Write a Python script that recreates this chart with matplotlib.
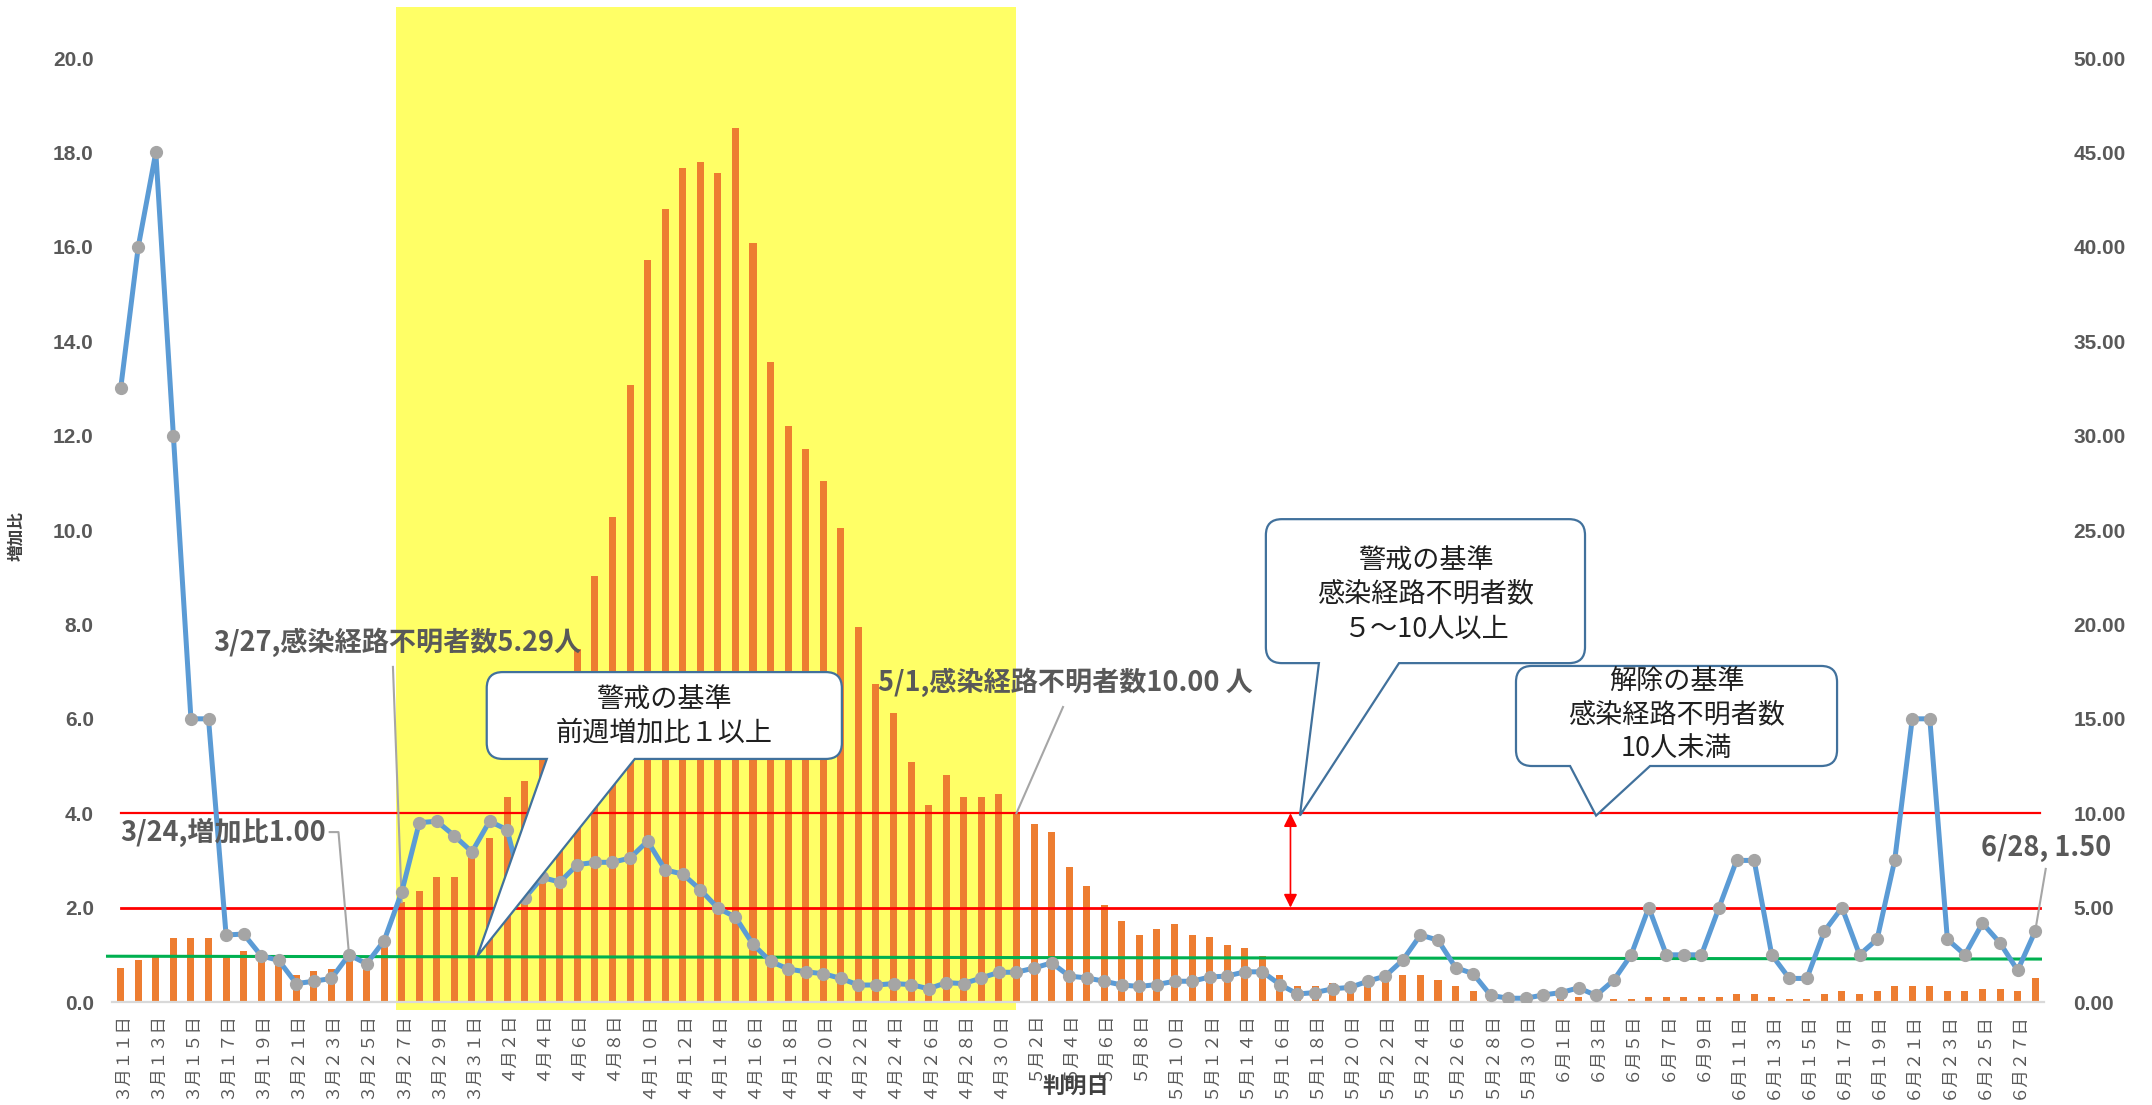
import numpy as np
import pandas as pd
import matplotlib
matplotlib.use('Agg')
import matplotlib.pyplot as plt
from matplotlib.path import Path
from matplotlib.patches import PathPatch, Rectangle
from matplotlib.transforms import IdentityTransform

plt.rcParams['font.family'] = ['Noto Sans CJK JP', 'DejaVu Sans']

# 判明日 (3/11 - 6/28)
dates = pd.date_range('2020-03-11', '2020-06-28', freq='D')

# 前週増加比 (left axis)
ratio = [13.0, 16.0, 18.0, 12.0, 6.0, 6.0, 1.42, 1.44, 0.98, 0.88,
         0.39, 0.44, 0.50, 1.00, 0.81, 1.30, 2.33, 3.80, 3.83, 3.52,
         3.18, 3.83, 3.65, 2.20, 2.64, 2.54, 2.91, 2.96, 2.96, 3.05,
         3.41, 2.80, 2.71, 2.38, 1.99, 1.80, 1.22, 0.86, 0.70, 0.64,
         0.60, 0.50, 0.36, 0.36, 0.39, 0.37, 0.28, 0.41, 0.39, 0.51,
         0.63, 0.63, 0.72, 0.83, 0.55, 0.51, 0.44, 0.36, 0.33, 0.37,
         0.44, 0.44, 0.53, 0.55, 0.64, 0.64, 0.37, 0.17, 0.20, 0.28,
         0.31, 0.44, 0.55, 0.89, 1.42, 1.31, 0.73, 0.60, 0.14, 0.08,
         0.08, 0.15, 0.20, 0.30, 0.14, 0.46, 1.00, 2.00, 1.00, 1.00,
         1.00, 2.00, 3.00, 3.00, 1.00, 0.50, 0.50, 1.50, 2.00, 1.00,
         1.33, 3.00, 6.00, 6.00, 1.33, 1.00, 1.67, 1.25, 0.67, 1.50]

# 感染経路不明者数 (right axis)
unknown = [1.80, 2.20, 2.50, 3.40, 3.40, 3.40, 2.40, 2.70, 2.40, 2.10,
           1.45, 1.65, 1.75, 2.25, 2.00, 3.10, 5.29, 5.90, 6.60, 6.60,
           7.90, 8.71, 10.86, 11.71, 13.80, 16.30, 18.71, 22.57, 25.71, 32.70,
           39.30, 42.00, 44.20, 44.50, 43.90, 46.30, 40.20, 33.90, 30.50, 29.30,
           27.60, 25.10, 19.86, 16.86, 15.29, 12.71, 10.43, 12.00, 10.86, 10.86,
           11.00, 10.00, 9.43, 9.00, 7.14, 6.14, 5.14, 4.29, 3.57, 3.86,
           4.14, 3.57, 3.43, 3.00, 2.86, 2.43, 1.43, 0.86, 0.86, 1.00,
           1.00, 1.14, 1.29, 1.43, 1.43, 1.14, 0.86, 0.57, 0.29, 0.14,
           0.14, 0.29, 0.29, 0.29, 0.14, 0.14, 0.14, 0.29, 0.29, 0.29,
           0.29, 0.29, 0.43, 0.43, 0.29, 0.14, 0.14, 0.43, 0.57, 0.43,
           0.57, 0.86, 0.86, 0.86, 0.57, 0.57, 0.71, 0.71, 0.57, 1.29]

left_ticks = np.arange(0, 21, 2)
right_ticks = np.arange(0, 51, 5)

GRAY = '#595959'
x = np.arange(len(dates))

fig = plt.figure(figsize=(21.52, 11.05), dpi=100)
ax = fig.add_axes([0.052, 0.0932, 0.8978, 0.8543])
ax2 = ax.twinx()
ax.set_zorder(ax2.get_zorder() + 1)
ax.patch.set_visible(False)

ax.set_xlim(-0.5, len(x) - 0.5)
ax.set_ylim(0, 20)
ax2.set_ylim(0, 50)

# highlighted period
ax2.add_patch(Rectangle((15.65, -0.4), 51.0 - 15.65, 53.1, fc='#FFFF66',
                        ec='none', zorder=0, clip_on=False))
ax2.bar(x, unknown, width=0.4, color='#ED7D31', zorder=2)

# reference lines
ax.plot([0, 109.3], [4, 4], color='#FF0000', lw=1.6, zorder=2)
ax.plot([0, 109.3], [2, 2], color='#FF0000', lw=2.0, zorder=2)
ax.plot([-0.75, 109.3], [0.97, 0.91], color='#00B050', lw=2.2, zorder=2,
        clip_on=False)
ax.annotate('', xy=(66.6, 4.0), xytext=(66.6, 2.0), zorder=3,
            arrowprops=dict(arrowstyle='<|-|>', color='#FF0000', lw=1.2,
                            mutation_scale=20, shrinkA=0, shrinkB=0))

ax.plot(x, ratio, color='#5B9BD5', lw=3.6, marker='o', ms=8.5,
        mfc='#A5A5A5', mec='#A5A5A5', zorder=5)

# axes styling
for s in ['top', 'left', 'right']:
    ax.spines[s].set_visible(False)
for s in ax2.spines.values():
    s.set_visible(False)
ax.spines['bottom'].set_color('#D9D9D9')
ax.spines['bottom'].set_linewidth(1.6)

num_font = dict(family=['Liberation Sans'], fontsize=15, fontweight='bold', color=GRAY)
ax.set_yticks(left_ticks)
ax.set_yticklabels([f'{v:.1f}' for v in left_ticks], **num_font)
ax2.set_yticks(right_ticks)
ax2.set_yticklabels([f'{v:.2f}' for v in right_ticks], **num_font)
ax.tick_params(axis='y', length=0, pad=13)
ax2.tick_params(axis='y', length=0, pad=21)

fw = str.maketrans('0123456789', '０１２３４５６７８９')
ax.set_xticks(x[::2])
ax.set_xticklabels([f'{d.month}月{d.day}日'.translate(fw) for d in dates[::2]],
                   rotation=90, fontsize=12.5, color=GRAY)
ax.tick_params(axis='x', length=0, pad=7)

fig.text(0.5, 0.0163, '判明日', ha='center', va='center', fontsize=16,
         fontweight='bold', color='#404040')
fig.text(0.0075, 0.515, '増加比', ha='center', va='center', rotation=90,
         fontsize=12, fontweight='bold', color='#404040')

# data labels with leader lines
lab = dict(fontsize=19.5, fontweight='bold', color=GRAY, va='center', ha='left', zorder=8)
ax.text(0, 3.6, f'3/24,増加比{ratio[13]:.2f}', **lab)
ax.plot([11.9, 12.4, 13], [3.6, 3.6, ratio[13]], color='#A6A6A6', lw=1.5, zorder=4)

ax.text(5.25, 7.63, f'3/27,感染経路不明者数{unknown[16]:.2f}人', **lab)
ax.plot([15.5, 16], [7.1, unknown[16] * 0.4], color='#A6A6A6', lw=1.5, zorder=4)

ax.text(43.1, 6.78, f'5/1,感染経路不明者数{unknown[51]:.2f} 人', **lab)
ax.plot([53.65, 51], [6.25, unknown[51] * 0.4], color='#A6A6A6', lw=1.5, zorder=4)

ax.text(105.9, 3.26, f'6/28, {ratio[109]:.2f}', **lab)
ax.plot([109.6, 109], [2.82, ratio[109]], color='#A6A6A6', lw=1.5, zorder=4,
        clip_on=False)


def callout(box, base, tip, lines, ys, r=16):
    x0, x1, y0, y1 = box
    T = ax.transData
    X0, Y0 = T.transform((x0, y0))
    X1, Y1 = T.transform((x1, y1))
    B0 = T.transform((base[0], y0))[0]
    B1 = T.transform((base[1], y0))[0]
    TX, TY = T.transform(tip)
    verts = [(X0 + r, Y0), (B0, Y0), (TX, TY), (B1, Y0), (X1 - r, Y0),
             (X1, Y0), (X1, Y0 + r), (X1, Y1 - r), (X1, Y1), (X1 - r, Y1),
             (X0 + r, Y1), (X0, Y1), (X0, Y1 - r), (X0, Y0 + r), (X0, Y0),
             (X0 + r, Y0), (X0 + r, Y0)]
    codes = [Path.MOVETO, Path.LINETO, Path.LINETO, Path.LINETO, Path.LINETO,
             Path.CURVE3, Path.CURVE3, Path.LINETO, Path.CURVE3, Path.CURVE3,
             Path.LINETO, Path.CURVE3, Path.CURVE3, Path.LINETO, Path.CURVE3,
             Path.CURVE3, Path.CLOSEPOLY]
    ax.add_patch(PathPatch(Path(verts, codes), transform=IdentityTransform(),
                           fc='white', ec='#41719C', lw=1.6, zorder=20,
                           clip_on=False))
    cx = (x0 + x1) / 2
    for s, yy in zip(lines, ys):
        ax.text(cx, yy, s, ha='center', va='center', fontsize=19.5,
                color='#1F1F1F', zorder=21)


callout((20.84, 41.06, 5.15, 6.99), (24.26, 29.27), (20.3, 0.97),
        ['警戒の基準', '前週増加比１以上'], [6.42, 5.70])
callout((65.2, 83.37, 7.18, 10.23), (68.22, 72.78), (67.14, 3.95),
        ['警戒の基準', '感染経路不明者数', '５～10人以上'], [9.36, 8.64, 7.90])
callout((79.44, 97.72, 5.0, 7.12), (82.52, 87.07), (84.0, 3.95),
        ['解除の基準', '感染経路不明者数', '10人未満'], [6.80, 6.08, 5.38])

fig.savefig('out.png', dpi=100, facecolor='white')
